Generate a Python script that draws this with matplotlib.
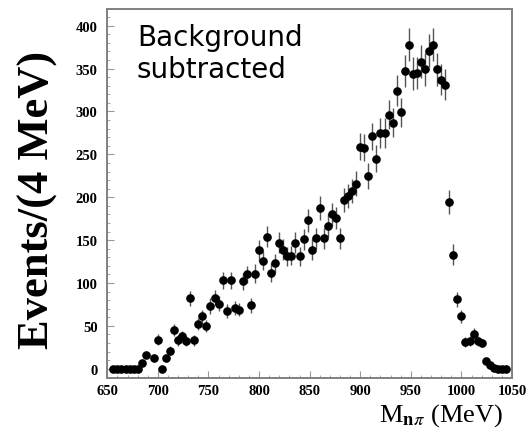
import matplotlib as mpl
mpl.use('Agg')
import matplotlib.pyplot as plt
from matplotlib.ticker import MultipleLocator

# bin centres (MeV), 4 MeV bins
mass = [656, 660, 664, 668, 672, 676, 680, 684, 688, 696,
        700, 704, 708, 712, 716, 720, 724, 728, 732, 736,
        740, 744, 748, 752, 756, 760, 764, 768, 772, 776,
        780, 784, 788, 792, 796, 800, 804, 808, 812, 816,
        820, 824, 828, 832, 836, 840, 844, 848, 852, 856,
        860, 864, 868, 872, 876, 880, 884, 888, 892, 896,
        900, 904, 908, 912, 916, 920, 924, 928, 932, 936,
        940, 944, 948, 952, 956, 960, 964, 968, 972, 976,
        980, 984, 988, 992, 996, 1000, 1004, 1008, 1012, 1016,
        1020, 1024, 1028, 1032, 1036, 1040, 1044]

events = [0, 0, 0, 0, 0, 0, 0, 7, 16, 13,
          34, 0, 12, 21, 45, 33, 38, 32, 82, 33,
          52, 61, 50, 73, 83, 76, 103, 67, 103, 71,
          69, 102, 110, 74, 111, 138, 126, 154, 112, 123,
          147, 139, 131, 132, 147, 131, 151, 173, 139, 152,
          188, 152, 167, 180, 176, 152, 197, 202, 207, 216,
          259, 258, 225, 271, 245, 275, 275, 296, 287, 324,
          299, 347, 378, 344, 345, 358, 349, 371, 378, 349,
          337, 331, 194, 133, 81, 61, 31, 32, 41, 32,
          30, 9, 4, 1, 0, 0, 0]

errors = [0, 0, 0, 0, 0, 0, 0, 3, 4, 4,
          6, 2, 3, 5, 7, 6, 6, 6, 9, 6,
          7, 8, 7, 9, 9, 9, 10, 8, 10, 8,
          8, 10, 10, 9, 11, 12, 11, 12, 11, 11,
          12, 12, 11, 11, 12, 11, 12, 13, 12, 12,
          14, 12, 13, 13, 13, 12, 14, 14, 14, 15,
          16, 16, 15, 16, 16, 17, 17, 17, 17, 18,
          17, 19, 19, 19, 19, 19, 19, 19, 19, 19,
          18, 18, 14, 12, 9, 8, 6, 6, 6, 6,
          5, 3, 2, 1, 0, 0, 0]

plt.rcParams['mathtext.fontset'] = 'stix'

fig = plt.figure(figsize=(5.28, 4.35), dpi=100)
ax = fig.add_axes([0.2032, 0.1287, 0.7665, 0.8483])

ax.errorbar(mass, events, yerr=errors, fmt='o', color='black', markersize=5.2,
            ecolor='#555555', elinewidth=1.0, capsize=0)

ax.set_xlim(650, 1050)
ax.set_ylim(-10.8, 419.5)
ax.xaxis.set_major_locator(MultipleLocator(50))
ax.xaxis.set_minor_locator(MultipleLocator(10))
ax.yaxis.set_major_locator(MultipleLocator(50))
ax.yaxis.set_minor_locator(MultipleLocator(10))

for s in ax.spines.values():
    s.set_color('#808080')
    s.set_linewidth(1.4)

ax.tick_params(which='both', direction='in', colors='#999999', labelcolor='black',
               top=False, right=False)
ax.tick_params(which='major', length=5, width=0.8)
ax.tick_params(which='minor', length=2.5, width=0.6)
ax.tick_params(axis='y', pad=7)
ax.tick_params(axis='x', pad=4)

for lab in ax.get_xticklabels() + ax.get_yticklabels():
    lab.set_family('Liberation Serif')
    lab.set_fontweight('bold')
    lab.set_fontsize(10.5)

fig.text(0.072, 0.54, 'Events/(4 MeV)', rotation=90, ha='center', va='center',
         family='Liberation Serif', fontweight='bold', fontsize=32)
fig.text(0.835, 0.045, r'M$_{\mathbf{n}\pi}$ (MeV)', ha='center', va='center',
         family='Liberation Serif', fontsize=19)

ax.text(0.073, 0.962, 'Background\nsubtracted', transform=ax.transAxes,
        ha='left', va='top', family='DejaVu Sans', fontsize=20, linespacing=1.2)

fig.savefig('out.png', dpi=100)
plt.close()
